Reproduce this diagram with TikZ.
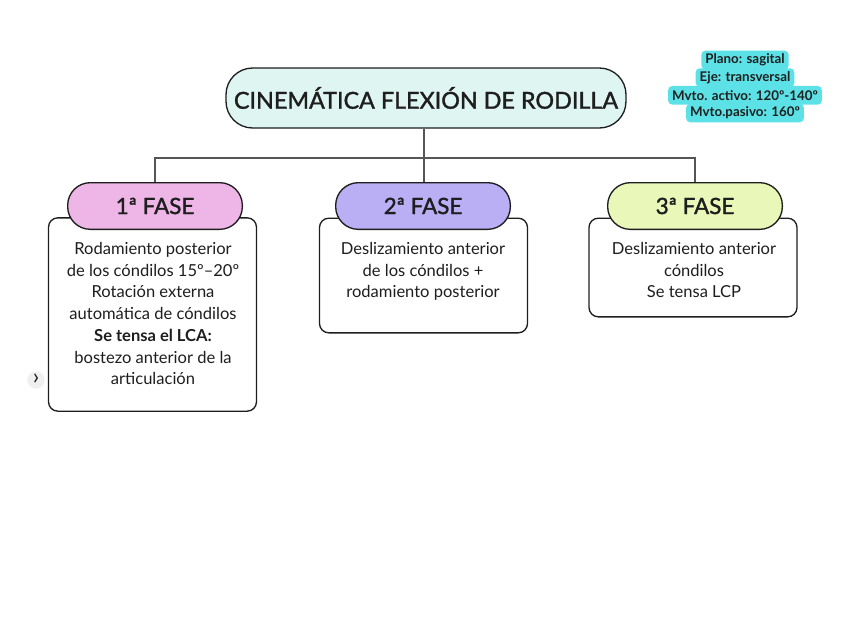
\documentclass[tikz,border=0pt]{standalone}
\usepackage{fontspec}
\setmainfont{Lato}
\newfontfamily\medfont[FakeBold=1.5]{Lato}
\usepackage{tikz}
\usetikzlibrary{positioning,calc}
\definecolor{ink}{HTML}{1E1E1E}
\definecolor{wire}{HTML}{555555}
\definecolor{mint}{HTML}{DFF5F1}
\definecolor{orchid}{HTML}{EDB6E6}
\definecolor{lavender}{HTML}{BAAEF5}
\definecolor{lime}{HTML}{E9F8B9}
\definecolor{aqua}{HTML}{5CE1E6}

\begin{document}
\begin{tikzpicture}[x=0.75pt,y=-0.75pt,text=ink,
    title/.style={draw=ink,fill=mint,line width=1pt,rounded corners=20pt,
                  minimum width=300pt,minimum height=45pt,
                  font=\medfont\fontsize{17.5}{20}\selectfont},
    phase/.style={draw=ink,line width=1pt,rounded corners=17pt,
                  minimum width=131pt,minimum height=35pt,
                  font=\medfont\fontsize{16.8}{19}\selectfont},
    card/.style={draw=ink,fill=white,line width=1pt,rounded corners=7pt,
                 minimum width=156pt},
    body/.style={align=center,anchor=north,inner sep=0pt,
                 font=\fontsize{12.4}{16.3}\selectfont},
    note/.style={fill=aqua,rounded corners=3pt,inner xsep=3pt,inner ysep=0pt,
                 minimum height=14pt,font=\bfseries\fontsize{10}{11}\selectfont},
    link/.style={draw=wire,line width=0.8pt}]
  \useasboundingbox (0,0) rectangle (848,636);

  % cards behind the phase labels
  \node[card,minimum height=145pt] (c1) at (152.5,314.5) {};
  \node[card,minimum height=86pt]  (c2) at (423.5,275.5) {};
  \node[card,minimum height=74pt]  (c3) at (693,267.5) {};

  \node[title] (top) at (426,98) {CINEMÁTICA FLEXIÓN DE RODILLA};
  \node[phase,fill=orchid]   (f1) at (155,206) {1ª FASE};
  \node[phase,fill=lavender] (f2) at (423,206) {2ª FASE};
  \node[phase,fill=lime]     (f3) at (695,206) {3ª FASE};

  \node[body] (t1) at (153,242) {Rodamiento posterior\\de los cóndilos 15º–20º\\Rotación externa\\automática de cóndilos\\\textbf{Se tensa el LCA:}\\bostezo anterior de la\\articulación};
  \node[body] (t2) at (423,242) {Deslizamiento anterior\\de los cóndilos +\\rodamiento posterior};
  \node[body] (t3) at (694,242) {Deslizamiento anterior\\cóndilos\\Se tensa LCP};

  % connectors
  \coordinate (bus) at (424,158);
  \draw[link] (top.south -| bus) -- (f2.north -| bus);
  \draw[link] (bus) -| (f1.north);
  \draw[link] (bus) -| (f3.north);

  % side note
  \node[note] (n1) at (745,60)  {Plano: sagital};
  \node[note] (n2) at (745,77.6)  {Eje: transversal};
  \node[note] (n3) at (745,95.3)  {Mvto. activo: 120º-140º};
  \node[note] (n4) at (745,113) {Mvto.pasivo: 160º};

  \node[circle,fill=black!6,inner sep=0pt,minimum size=13pt,
        font=\fontsize{17}{17}\selectfont] (more) at (36,380) {\raisebox{1pt}{›}};
\end{tikzpicture}
\end{document}
